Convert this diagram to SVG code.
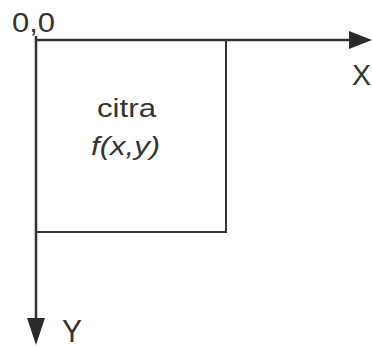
<svg xmlns="http://www.w3.org/2000/svg" width="372" height="348" viewBox="0 0 372 348">
  <style>
    .ax { stroke: #333; stroke-width: 2.5; fill: none; }
    .box { stroke: #333; stroke-width: 2; fill: none; }
    .t { font-family: "Liberation Sans", Arial, sans-serif; fill: #333; }
    .head { fill: #2a2a2a; }
  </style>
  <rect width="372" height="348" fill="#fff"/>
  <g id="connectors">
    <line class="ax" x1="35" y1="40" x2="352" y2="40"/>
    <polygon class="head" points="349,31 372,40 349,49"/>
    <line class="ax" x1="36" y1="36" x2="36" y2="320"/>
    <polygon class="head" points="27,318 45,318 36,345"/>
  </g>
  <g id="image">
    <polyline class="box" points="36,232 226,232 226,40"/>
    <text class="t" x="97" y="117" font-size="26" textLength="59" lengthAdjust="spacingAndGlyphs">citra</text>
    <text class="t" x="91" y="155" font-size="26" font-style="italic" textLength="69" lengthAdjust="spacingAndGlyphs">f(x,y)</text>
  </g>
  <g id="origin">
    <text class="t" x="12" y="32" font-size="27" textLength="43" lengthAdjust="spacingAndGlyphs">0,0</text>
  </g>
  <g id="x-label">
    <text class="t" x="352" y="85" font-size="29" textLength="19" lengthAdjust="spacingAndGlyphs">X</text>
  </g>
  <g id="y-label">
    <text class="t" x="62" y="342" font-size="31" textLength="20" lengthAdjust="spacingAndGlyphs">Y</text>
  </g>
</svg>
